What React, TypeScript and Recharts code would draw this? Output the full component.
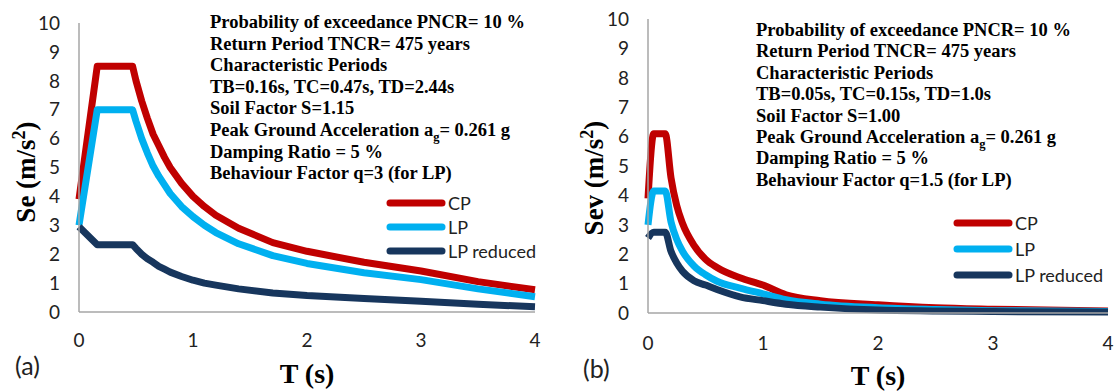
import { LineChart, Line, XAxis, YAxis, Legend, Label } from "recharts";

// (a) horizontal spectrum
const periodsA = [0, 0.16, 0.47, 0.5, 0.55, 0.6, 0.65, 0.7, 0.75, 0.8, 0.9, 1.0, 1.1, 1.2, 1.4, 1.7, 2.0, 2.5, 3.0, 3.5, 4.0];
const cpA = [3.9, 8.5, 8.5, 8.0, 7.3, 6.7, 6.15, 5.75, 5.35, 5.0, 4.45, 4.0, 3.65, 3.35, 2.9, 2.4, 2.1, 1.72, 1.42, 1.05, 0.77];
const lpA = [3.0, 7.0, 7.0, 6.6, 6.0, 5.5, 5.05, 4.7, 4.4, 4.1, 3.65, 3.3, 3.0, 2.75, 2.36, 1.95, 1.68, 1.36, 1.12, 0.8, 0.53];
const lprA = [2.95, 2.33, 2.33, 2.2, 2.0, 1.84, 1.72, 1.58, 1.48, 1.38, 1.23, 1.1, 1.0, 0.93, 0.8, 0.66, 0.57, 0.47, 0.37, 0.27, 0.18];

// (b) vertical spectrum
const periodsB = [0, 0.05, 0.15, 0.2, 0.25, 0.3, 0.4, 0.5, 0.6, 0.8, 1.0, 1.2, 1.5, 2.0, 2.5, 3.0, 4.0];
const cpB = [3.9, 6.1, 6.1, 4.6, 3.65, 3.05, 2.3, 1.83, 1.55, 1.2, 0.95, 0.62, 0.42, 0.28, 0.18, 0.13, 0.07];
const lpB = [3.0, 4.15, 4.15, 3.1, 2.5, 2.1, 1.6, 1.3, 1.08, 0.85, 0.65, 0.45, 0.3, 0.18, 0.12, 0.08, 0.05];
const lprB = [2.55, 2.75, 2.75, 2.1, 1.7, 1.42, 1.1, 0.95, 0.8, 0.55, 0.42, 0.3, 0.2, 0.1, 0.07, 0.05, 0.03];

const xTicks = [0, 1, 2, 3, 4];
const yTicks = [0, 1, 2, 3, 4, 5, 6, 7, 8, 9, 10];

const notesA = [
  "Probability of exceedance PNCR= 10 %",
  "Return Period TNCR= 475 years",
  "Characteristic Periods",
  "TB=0.16s, TC=0.47s, TD=2.44s",
  "Soil Factor S=1.15",
  "PGA",
  "Damping Ratio = 5 %",
  "Behaviour Factor q=3 (for LP)",
];
const notesB = [
  "Probability of exceedance PNCR= 10 %",
  "Return Period TNCR= 475 years",
  "Characteristic Periods",
  "TB=0.05s, TC=0.15s, TD=1.0s",
  "Soil Factor S=1.00",
  "PGA",
  "Damping Ratio = 5 %",
  "Behaviour Factor q=1.5 (for LP)",
];

const COLORS = { cp: "#c00000", lp: "#00b0f0", lpr: "#17365d" };
const AXIS = "#a6a6a6";
const TICK_FONT = { fontFamily: "Lato", fontSize: 19, fill: "#222" };

type Row = { T: number; cp: number; lp: number; lpr: number };

const buildRows = (t: number[], cp: number[], lp: number[], lpr: number[]): Row[] =>
  t.map((T, i) => ({ T, cp: cp[i], lp: lp[i], lpr: lpr[i] }));

const YTitle = ({ x, y, text }: { x: number; y: number; text: string }) => (
  <text
    x={x}
    y={y}
    transform={`rotate(-90 ${x} ${y})`}
    textAnchor="middle"
    fontFamily="Liberation Serif"
    fontWeight="bold"
    fontSize={27}
    fill="#000"
  >
    {text} (m/s
    <tspan dy={-10} fontSize={18}>
      2
    </tspan>
    <tspan dy={10}>)</tspan>
  </text>
);

const LegendRows = ({ payload, rowHeight }: any) => (
  <div style={{ fontFamily: "Lato", fontSize: 18, color: "#222" }}>
    {(payload || []).map((p: any) => (
      <div key={p.value} style={{ display: "flex", alignItems: "center", height: rowHeight }}>
        <svg width={60} height={10}>
          <line x1={4} y1={5} x2={56} y2={5} stroke={p.color} strokeWidth={7} strokeLinecap="round" />
        </svg>
        <span style={{ marginLeft: 2 }}>{p.value}</span>
      </div>
    ))}
  </div>
);

const Notes = ({ lines, left, top, spacing }: { lines: string[]; left: number; top: number; spacing: number }) => (
  <div
    style={{
      position: "absolute",
      left,
      top,
      fontFamily: "Liberation Serif",
      fontWeight: "bold",
      fontSize: 18.5,
      lineHeight: `${spacing}px`,
      color: "#000",
      whiteSpace: "nowrap",
    }}
  >
    {lines.map((l) =>
      l === "PGA" ? (
        <div key={l}>
          Peak Ground Acceleration a
          <sub style={{ fontSize: 12.5, verticalAlign: "-5px", lineHeight: 0 }}>g</sub>= 0.261 g
        </div>
      ) : (
        <div key={l}>{l}</div>
      )
    )}
  </div>
);

interface SpectrumProps {
  data: Row[];
  left: number;
  width: number;
  margin: { top: number; right: number; bottom: number; left: number };
  curve: "linear" | "monotone";
  yTitle: string;
  yTitleX: number;
  yTitleY: number;
  xTitleBaseline: number;
  xTickMargin: number;
  legendLeft: number;
  legendTop: number;
  legendRow: number;
}

const Spectrum = (props: SpectrumProps) => {
  const { data, left, width, margin, curve } = props;
  const plotCenter = margin.left + 40 + (width - margin.left - 40 - margin.right) / 2;
  return (
    <div style={{ position: "absolute", left, top: 0 }}>
      <LineChart width={width} height={391} data={data} margin={margin}>
        <XAxis
          dataKey="T"
          type="number"
          domain={[0, 4]}
          ticks={xTicks}
          tickLine={false}
          tickSize={0}
          tickMargin={props.xTickMargin}
          axisLine={{ stroke: AXIS, strokeWidth: 1.5 }}
          tick={TICK_FONT}
          height={30}
        >
          <Label
            content={() => (
              <text
                x={plotCenter}
                y={props.xTitleBaseline}
                textAnchor="middle"
                fontFamily="Liberation Serif"
                fontWeight="bold"
                fontSize={28}
                fill="#000"
              >
                T (s)
              </text>
            )}
          />
        </XAxis>
        <YAxis
          type="number"
          domain={[0, 10]}
          ticks={yTicks}
          tickLine={false}
          tickSize={0}
          tickMargin={19}
          axisLine={{ stroke: AXIS, strokeWidth: 1.5 }}
          tick={TICK_FONT}
          width={40}
        >
          <Label content={() => <YTitle x={props.yTitleX} y={props.yTitleY} text={props.yTitle} />} />
        </YAxis>
        <Legend
          layout="vertical"
          align="center"
          verticalAlign="middle"
          wrapperStyle={{ left: props.legendLeft, top: props.legendTop, width: "auto", height: "auto" }}
          content={(p: any) => <LegendRows payload={p.payload} rowHeight={props.legendRow} />}
        />
        <Line type={curve} dataKey="cp" name="CP" stroke={COLORS.cp} strokeWidth={7} dot={false} strokeLinejoin="round" isAnimationActive={false} />
        <Line type={curve} dataKey="lp" name="LP" stroke={COLORS.lp} strokeWidth={7} dot={false} strokeLinejoin="round" isAnimationActive={false} />
        <Line type={curve} dataKey="lpr" name="LP reduced" stroke={COLORS.lpr} strokeWidth={7} dot={false} strokeLinejoin="round" isAnimationActive={false} />
      </LineChart>
    </div>
  );
};

const caption = (text: string, left: number, top: number) => (
  <div style={{ position: "absolute", left, top, fontFamily: "Lato", fontSize: 25, color: "#222" }}>{text}</div>
);

export default function App() {
  return (
    <div style={{ position: "absolute", left: 0, top: 0, width: 1116, height: 391, background: "#fff", overflow: "hidden" }}>
      <Spectrum
        data={buildRows(periodsA, cpA, lpA, lprA)}
        left={0}
        width={560}
        margin={{ top: 23, right: 25, bottom: 49, left: 39 }}
        curve="linear"
        yTitle="Se"
        yTitleX={35}
        yTitleY={172}
        xTitleBaseline={383}
        xTickMargin={22}
        legendLeft={386}
        legendTop={191}
        legendRow={24}
      />
      <Spectrum
        data={buildRows(periodsB, cpB, lpB, lprB)}
        left={560}
        width={556}
        margin={{ top: 19, right: 8, bottom: 48, left: 48 }}
        curve="monotone"
        yTitle="Sev"
        yTitleX={43}
        yTitleY={178}
        xTitleBaseline={385}
        xTickMargin={24}
        legendLeft={393}
        legendTop={210}
        legendRow={26}
      />
      <Notes lines={notesA} left={210} top={12} spacing={21.6} />
      <Notes lines={notesB} left={756} top={20} spacing={21.4} />
      {caption("(a)", 15, 350)}
      {caption("(b)", 583, 353)}
    </div>
  );
}
